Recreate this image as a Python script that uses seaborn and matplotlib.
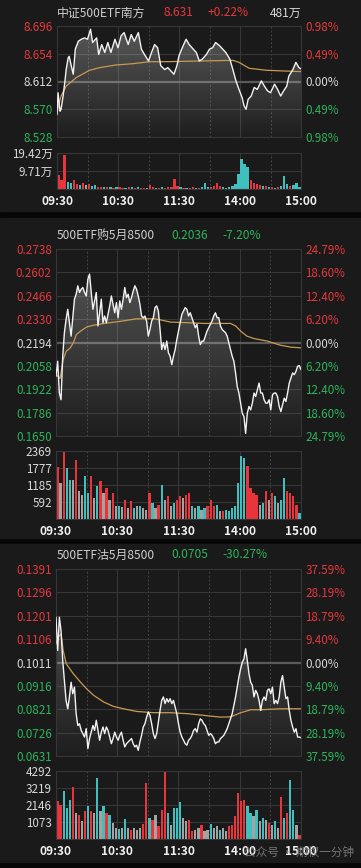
import numpy as np
import pandas as pd
import seaborn as sns
import matplotlib.pyplot as plt
from matplotlib.patches import Rectangle

# ---------------- data ----------------
# panel 1: 中证500ETF南方 (minutes since 09:30, trading time)
p1_time = [0, 1, 3, 4, 6, 8, 9, 11, 12, 14, 16, 18, 21, 24, 27, 30, 33, 35, 39, 41,
           44, 47, 50, 53, 57, 60, 63, 66, 70, 73, 76, 80, 83, 86, 90, 93, 96, 99, 102, 106,
           109, 112, 115, 118, 120, 124, 127, 130, 134, 137, 140, 143, 147, 150, 153, 156, 160, 163, 166, 170,
           173, 176, 179, 182, 184, 186, 188, 191, 194, 197, 201, 204, 207, 210, 214, 217, 220, 223, 226, 228,
           232, 235, 238, 240]
p1_price = [8.562, 8.595, 8.567, 8.570, 8.590, 8.615, 8.630, 8.648, 8.650, 8.636,
            8.623, 8.661, 8.673, 8.676, 8.678, 8.676, 8.691, 8.671, 8.678, 8.653,
            8.668, 8.656, 8.671, 8.656, 8.676, 8.663, 8.681, 8.686, 8.668, 8.683,
            8.673, 8.686, 8.661, 8.653, 8.643, 8.656, 8.668, 8.663, 8.636, 8.630,
            8.633, 8.628, 8.623, 8.636, 8.651, 8.666, 8.676, 8.668, 8.661, 8.656,
            8.643, 8.646, 8.653, 8.661, 8.663, 8.671, 8.666, 8.661, 8.656, 8.646,
            8.630, 8.613, 8.600, 8.588, 8.575, 8.570, 8.585, 8.590, 8.603, 8.600,
            8.613, 8.605, 8.598, 8.595, 8.608, 8.600, 8.590, 8.598, 8.605, 8.620,
            8.630, 8.641, 8.633, 8.631]
p1_avg_time = [0, 2, 4, 9, 19, 32, 42, 58, 75, 91, 107, 140, 173, 179, 189, 206, 222, 240]
p1_avg = [8.565, 8.578, 8.590, 8.605, 8.618, 8.629, 8.633, 8.637, 8.639, 8.642,
          8.642, 8.643, 8.644, 8.641, 8.632, 8.629, 8.628, 8.627]
p1_vol = [7.5, 4.8, 18.5, 3.9, 3.4, 5.0, 2.5, 2.3, 3.0, 2.0,
          2.7, 1.5, 2.0, 1.2, 1.0, 1.3, 0.9, 1.0, 0.8, 1.2,
          1.0, 0.8, 0.7, 1.1, 0.9, 0.6, 1.0, 0.7, 0.8, 0.6,
          2.1, 1.0, 0.8, 0.6, 0.9, 0.7, 1.0, 1.2, 5.2, 1.5,
          1.0, 0.7, 0.8, 0.6, 0.9, 0.7, 0.8, 1.0, 3.4, 1.0,
          1.2, 1.8, 3.0, 1.5, 1.0, 0.8, 1.2, 1.5, 2.5, 8.0,
          16.2, 13.4, 12.0, 5.0, 3.4, 2.5, 2.0, 1.5, 1.8, 1.0,
          1.2, 0.8, 1.0, 1.5, 7.0, 2.5, 1.5, 2.0, 3.0, 1.0]
p1_dir = "rrrccrrcrg" "rccrrcrcrc" "rrcrcrcrrc" "rrcrcrrrrr" "crcrrcrccc" "rrrrcccccc" "cccrrrrcrc" "rcrcccrccc"
p1_levels = [8.528, 8.570, 8.612, 8.654, 8.696]
p1_pct = ["0.98%", "0.49%", "0.00%", "0.49%", "0.98%"]
p1_vol_ticks = [9.71, 19.42]
p1_vol_labels = ["9.71万", "19.42万"]

# panel 2: 500ETF购5月8500 (evenly sampled through the session)
p2_price = [0.1997, 0.2085, 0.1900, 0.1861, 0.2114, 0.2251, 0.2328, 0.2387, 0.2309, 0.2231,
            0.2338, 0.2446, 0.2475, 0.2524, 0.2485, 0.2504, 0.2514, 0.2485, 0.2465, 0.2563,
            0.2592, 0.2485, 0.2387, 0.2436, 0.2485, 0.2290, 0.2367, 0.2446, 0.2309, 0.2348,
            0.2309, 0.2358, 0.2407, 0.2465, 0.2416, 0.2367, 0.2426, 0.2338, 0.2436, 0.2387,
            0.2446, 0.2514, 0.2455, 0.2475, 0.2426, 0.2455, 0.2494, 0.2524, 0.2504, 0.2465,
            0.2416, 0.2348, 0.2338, 0.2348, 0.2319, 0.2231, 0.2270, 0.2319, 0.2338, 0.2397,
            0.2407, 0.2377, 0.2270, 0.2153, 0.2192, 0.2153, 0.2202, 0.2134, 0.2114, 0.2065,
            0.2114, 0.2153, 0.2212, 0.2260, 0.2309, 0.2358, 0.2377, 0.2397, 0.2387, 0.2348,
            0.2367, 0.2338, 0.2309, 0.2280, 0.2300, 0.2231, 0.2182, 0.2202, 0.2202, 0.2231,
            0.2260, 0.2280, 0.2300, 0.2319, 0.2348, 0.2367, 0.2338, 0.2338, 0.2290, 0.2270,
            0.2260, 0.2251, 0.2231, 0.2192, 0.2153, 0.2114, 0.2085, 0.2017, 0.1938, 0.1900,
            0.1841, 0.1783, 0.1763, 0.1665, 0.1783, 0.1822, 0.1802, 0.1841, 0.1900, 0.1880,
            0.1919, 0.1958, 0.1900, 0.1900, 0.1861, 0.1841, 0.1841, 0.1861, 0.1802, 0.1890,
            0.1900, 0.1900, 0.1880, 0.1822, 0.1792, 0.1831, 0.1870, 0.1851, 0.1900, 0.1958,
            0.1987, 0.2017, 0.2007, 0.2026, 0.2056, 0.2060, 0.2036]
p2_avg_time = [0, 4, 7, 10, 14, 17, 20, 24, 30, 37, 47, 63, 79, 96, 102, 112, 129, 145, 171, 176,
               181, 187, 194, 207, 220, 230, 240]
p2_avg = [0.2007, 0.1985, 0.2095, 0.2143, 0.2163, 0.2192, 0.2241, 0.2260, 0.2284, 0.2295,
          0.2305, 0.2317, 0.2332, 0.2332, 0.2326, 0.2313, 0.2309, 0.2305, 0.2305, 0.2290,
          0.2260, 0.2231, 0.2217, 0.2202, 0.2178, 0.2167, 0.2163]
p2_vol = [1810, 1250, 2320, 1775, 1370, 1370, 2040, 960, 850, 1485,
          900, 1485, 730, 1135, 1310, 900, 1080, 670, 900, 440,
          440, 420, 670, 380, 615, 380, 440, 440, 380, 325,
          900, 555, 380, 500, 1195, 670, 790, 440, 555, 670,
          790, 730, 850, 900, 440, 380, 440, 325, 380, 440,
          670, 440, 500, 265, 265, 325, 265, 380, 440, 1250,
          2200, 2120, 1830, 1080, 900, 850, 500, 555, 960, 670,
          900, 790, 555, 670, 1430, 960, 900, 790, 500, 210]
p2_dir = "rgrccgrggc" "crgcrgrgrg" "cgrgrcgcgg" "rcgrcgrgcr" "rgrrcgcgcr" "rrcgrccccc" "ccrrrrgcrg" "rcgccrrrrc"
p2_levels = [0.1650, 0.1786, 0.1922, 0.2058, 0.2194, 0.2330, 0.2466, 0.2602, 0.2738]
p2_pct = ["24.79%", "18.60%", "12.40%", "6.20%", "0.00%", "6.20%", "12.40%", "18.60%", "24.79%"]
p2_vol_ticks = [592, 1185, 1777, 2369]

# panel 3: 500ETF沽5月8500
p3_price = [0.1195, 0.1060, 0.1195, 0.1140, 0.1019, 0.0938, 0.0857, 0.0823, 0.0871, 0.0931,
            0.0884, 0.0911, 0.0803, 0.0755, 0.0762, 0.0735, 0.0722, 0.0708, 0.0742, 0.0661,
            0.0702, 0.0728, 0.0755, 0.0735, 0.0776, 0.0735, 0.0695, 0.0728, 0.0749, 0.0722,
            0.0749, 0.0735, 0.0708, 0.0681, 0.0702, 0.0728, 0.0708, 0.0695, 0.0715, 0.0728,
            0.0695, 0.0668, 0.0681, 0.0688, 0.0695, 0.0702, 0.0681, 0.0668, 0.0675, 0.0654,
            0.0688, 0.0715, 0.0749, 0.0762, 0.0789, 0.0810, 0.0796, 0.0762, 0.0722, 0.0702,
            0.0722, 0.0769, 0.0816, 0.0857, 0.0871, 0.0844, 0.0864, 0.0850, 0.0864, 0.0844,
            0.0857, 0.0830, 0.0803, 0.0762, 0.0728, 0.0708, 0.0695, 0.0681, 0.0675, 0.0695,
            0.0702, 0.0715, 0.0735, 0.0742, 0.0728, 0.0762, 0.0782, 0.0776, 0.0762, 0.0755,
            0.0735, 0.0715, 0.0722, 0.0715, 0.0702, 0.0681, 0.0688, 0.0688, 0.0702, 0.0708,
            0.0715, 0.0728, 0.0742, 0.0762, 0.0782, 0.0803, 0.0837, 0.0871, 0.0911, 0.0952,
            0.0985, 0.1012, 0.1026, 0.1067, 0.1019, 0.0965, 0.0931, 0.0918, 0.0871, 0.0898,
            0.0884, 0.0857, 0.0816, 0.0857, 0.0871, 0.0857, 0.0898, 0.0904, 0.0884, 0.0911,
            0.0844, 0.0857, 0.0844, 0.0871, 0.0931, 0.0958, 0.0911, 0.0864, 0.0871, 0.0816,
            0.0776, 0.0749, 0.0728, 0.0742, 0.0708, 0.0708, 0.0705]
p3_avg_time = [0, 2, 5, 7, 10, 17, 24, 30, 37, 47, 56, 66, 79, 96, 112, 129, 145, 161, 171, 181,
               191, 201, 220, 240]
p3_avg = [0.1087, 0.1114, 0.1127, 0.1060, 0.1006, 0.0965, 0.0931, 0.0904, 0.0877, 0.0850,
          0.0833, 0.0823, 0.0812, 0.0807, 0.0807, 0.0803, 0.0796, 0.0789, 0.0790, 0.0807,
          0.0819, 0.0819, 0.0823, 0.0823]
p3_vol = [2385, 2170, 3020, 1960, 2490, 3290, 1645, 1540, 1120, 1750,
          2070, 1750, 1645, 3840, 1750, 2110, 1645, 1540, 1010, 700,
          630, 700, 1290, 700, 590, 700, 590, 700, 970, 3545,
          1330, 1225, 1540, 800, 1860, 4220, 1645, 910, 1960, 1960,
          2320, 1330, 1120, 1225, 485, 590, 700, 910, 485, 590,
          970, 700, 800, 590, 700, 485, 800, 910, 1435, 2910,
          2385, 2490, 2110, 1645, 1435, 1815, 1120, 1330, 1225, 1010,
          910, 1120, 700, 2660, 1330, 1645, 3715, 1860, 910, 275]
p3_dir = "rrcccrgrgr" "crgcgcrcgg" "cgcgrgggrr" "crgrrrcgcc" "cggrrggrgg" "cggcggrrrr" "rrccgcgcgr" "gcgrcrccgr"
p3_levels = [0.0631, 0.0726, 0.0821, 0.0916, 0.1011, 0.1106, 0.1201, 0.1296, 0.1391]
p3_pct = ["37.59%", "28.19%", "18.79%", "9.40%", "0.00%", "9.40%", "18.79%", "28.19%", "37.59%"]
p3_vol_ticks = [1073, 2146, 3219, 4292]

titles = [("中证500ETF南方", "8.631", "+0.22%", "481万"),
          ("500ETF购5月8500", "0.2036", "-7.20%", ""),
          ("500ETF沽5月8500", "0.0705", "-30.27%", "")]
time_ticks = [0, 60, 120, 180, 240]
time_labels = ["09:30", "10:30", "11:30", "14:00", "15:00"]

# ---------------- style ----------------
BG = "#1a1a1a"
GRID = "#363636"
RED = "#e5383d"
GREEN = "#2db45a"
WHITE = "#d9d9d9"
bar_pal = {"r": "#e8353b", "c": "#3fc0bf", "g": "#a3a3a3"}

sns.set_theme(style="dark", rc={"axes.facecolor": BG, "figure.facecolor": "#060606",
                                "axes.edgecolor": GRID, "text.color": WHITE})
plt.rcParams['font.family'] = ['Noto Sans CJK SC', 'DejaVu Sans']

W, H = 361, 868
fig = plt.figure(figsize=(W / 100, H / 100), dpi=100)


def box(x0, y0, x1, y1):
    return [x0 / W, 1 - y1 / H, (x1 - x0) / W, (y1 - y0) / H]


for y0, y1 in [(0, 211), (218, 538), (544, 862)]:
    fig.add_artist(Rectangle((0, 1 - y1 / H), 1, (y1 - y0) / H, transform=fig.transFigure,
                             color=BG, zorder=0))


def frame(ax):
    for s in ax.spines.values():
        s.set_color(GRID)
        s.set_linewidth(0.8)
    ax.set_xlim(0, 240)
    for t in (60, 120, 180):
        ax.axvline(t, color=GRID, lw=0.8, zorder=0.5)
    for t in (30, 90, 150, 210):
        ax.axvline(t, color="#444444", lw=0.7, ls=(0, (2, 2)), zorder=0.5)


def price_panel(rect, t, p, ta, a, levels, pct, fmt):
    ax = fig.add_axes(rect)
    lo, hi = levels[0], levels[-1]
    # gradient shading under the price line
    poly = ax.fill_between(t, p, lo, color="none", lw=0)
    img = np.ones((256, 1, 4))
    img[:, 0, 3] = np.linspace(0.28, 0.02, 256)
    im = ax.imshow(img, extent=[0, 240, lo, hi], origin="upper", aspect="auto", zorder=1)
    im.set_clip_path(poly.get_paths()[0], transform=ax.transData)
    sns.lineplot(x=ta, y=a, ax=ax, color="#c89a52", lw=0.9, zorder=3)
    sns.lineplot(x=t, y=p, ax=ax, color="#f2f2f2", lw=1.0, zorder=4)
    frame(ax)
    ax.set_ylim(lo, hi)
    ax.set_yticks(levels)
    ax.set_yticklabels([fmt.format(v) for v in levels])
    for y in levels:
        ax.axhline(y, color=GRID, lw=0.8, zorder=0.5)
    ax.axhline(levels[len(levels) // 2], color="#5a5a5a", lw=1.6, zorder=0.6)
    ax.set_xticks([])
    ax.set_xlabel("")
    ax.set_ylabel("")
    mid = len(levels) // 2
    cols = [GREEN] * mid + [WHITE] + [RED] * mid
    ax.tick_params(axis="y", length=0, pad=3, labelsize=8.4)
    for lab, c in zip(ax.get_yticklabels(), cols):
        lab.set_color(c)
    ax2 = ax.twinx()
    ax2.set_ylim(lo, hi)
    ax2.set_yticks(levels)
    ax2.set_yticklabels(pct)
    ax2.tick_params(axis="y", length=0, pad=3, labelsize=8.4)
    for lab, c in zip(ax2.get_yticklabels(), cols):
        lab.set_color(c)
    ax2.grid(False)
    for s in ax2.spines.values():
        s.set_visible(False)
    return ax


def vol_panel(rect, vol, dirs, ticks, labels):
    ax = fig.add_axes(rect)
    df = pd.DataFrame({"t": np.arange(len(vol)) * 3 + 1.5, "v": vol, "d": list(dirs)})
    sns.barplot(data=df, x="t", y="v", hue="d", palette=bar_pal, native_scale=True,
                dodge=False, width=0.75, errorbar=None, legend=False, saturation=1,
                linewidth=0, ax=ax, zorder=2)
    frame(ax)
    ax.set_ylim(0, ticks[-1])
    ax.set_yticks(ticks)
    ax.set_yticklabels(labels)
    for y in ticks:
        ax.axhline(y, color=GRID, lw=0.8, zorder=0.5)
    ax.tick_params(axis="y", length=0, pad=3, labelsize=8.4, labelcolor=WHITE)
    ax.set_xticks(time_ticks)
    ax.set_xticklabels(time_labels, fontweight="bold", color="#f0f0f0")
    ax.tick_params(axis="x", length=0, pad=4.5, labelsize=8.6)
    ax.set_xlim(0, 240)
    ax.set_xlabel("")
    ax.set_ylabel("")
    return ax


price_panel(box(57, 26, 301, 137), p1_time, p1_price, p1_avg_time, p1_avg,
            p1_levels, p1_pct, "{:.3f}")
vol_panel(box(57, 153, 301, 189), p1_vol, p1_dir, p1_vol_ticks, p1_vol_labels)

t2 = np.linspace(0, 240, len(p2_price))
price_panel(box(56, 249, 301, 436), t2, p2_price, p2_avg_time, p2_avg,
            p2_levels, p2_pct, "{:.4f}")
vol_panel(box(56, 451, 301, 519), p2_vol, p2_dir, p2_vol_ticks, [str(v) for v in p2_vol_ticks])

t3 = np.linspace(0, 240, len(p3_price))
price_panel(box(56, 569, 301, 756), t3, p3_price, p3_avg_time, p3_avg,
            p3_levels, p3_pct, "{:.4f}")
vol_panel(box(56, 771, 301, 839), p3_vol, p3_dir, p3_vol_ticks, [str(v) for v in p3_vol_ticks])

# title rows
for (name, last, chg, amount), ty, col in zip(titles, [13, 235, 555], [RED, GREEN, GREEN]):
    yy = 1 - ty / H
    fig.text(57 / W, yy, name, color="#cfcfcf", fontsize=8.6, va="center")
    fig.text(171 / W if col == GREEN else 163 / W, yy, last, color=col, fontsize=8.6, va="center")
    fig.text(222 / W if col == GREEN else 208 / W, yy, chg, color=col, fontsize=8.6, va="center")
    if amount:
        fig.text(301 / W, yy, amount, color=WHITE, fontsize=8.6, va="center", ha="right")

# watermark (sits behind the 14:00 / 15:00 labels, as in the screenshot)
fig.text(244 / W, 1 - 852 / H, "公众号 · 期权一分钟", color="#8a8a8a", alpha=0.8,
         fontsize=8.4, va="center", zorder=0.8)

fig.savefig("out.png", dpi=100, facecolor=fig.get_facecolor())
